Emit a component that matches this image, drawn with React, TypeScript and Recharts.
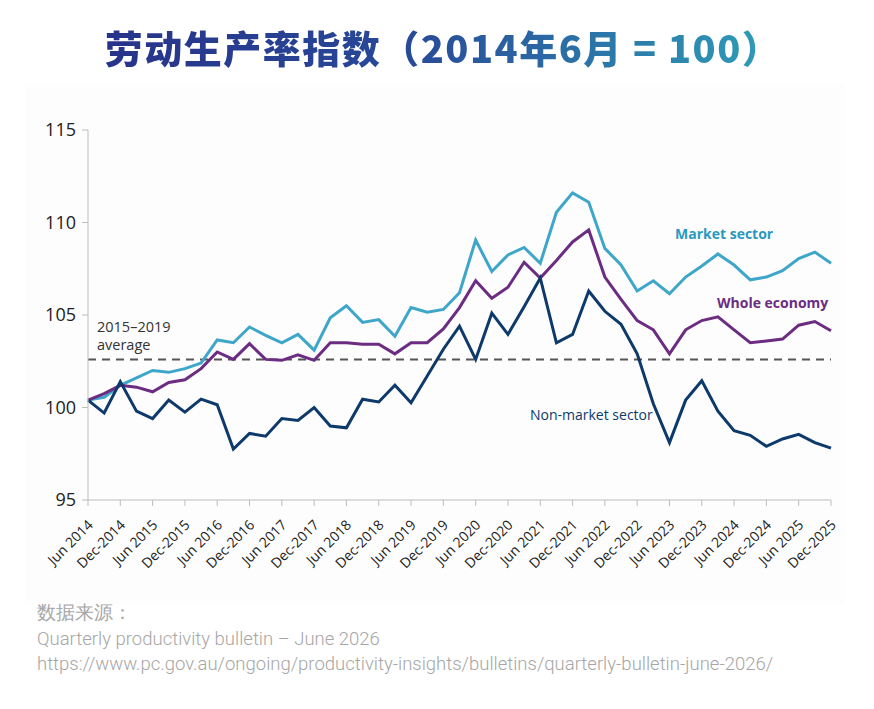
import React from 'react';
import { LineChart, Line, XAxis, YAxis, ReferenceLine } from 'recharts';

// Quarterly labels, Jun 2014 to Dec 2025
const quarters = [
  'Jun 2014', 'Sep-2014', 'Dec-2014',
  'Mar-2015', 'Jun 2015', 'Sep-2015', 'Dec-2015',
  'Mar-2016', 'Jun 2016', 'Sep-2016', 'Dec-2016',
  'Mar-2017', 'Jun 2017', 'Sep-2017', 'Dec-2017',
  'Mar-2018', 'Jun 2018', 'Sep-2018', 'Dec-2018',
  'Mar-2019', 'Jun 2019', 'Sep-2019', 'Dec-2019',
  'Mar-2020', 'Jun 2020', 'Sep-2020', 'Dec-2020',
  'Mar-2021', 'Jun 2021', 'Sep-2021', 'Dec-2021',
  'Mar-2022', 'Jun 2022', 'Sep-2022', 'Dec-2022',
  'Mar-2023', 'Jun 2023', 'Sep-2023', 'Dec-2023',
  'Mar-2024', 'Jun 2024', 'Sep-2024', 'Dec-2024',
  'Mar-2025', 'Jun 2025', 'Sep-2025', 'Dec-2025',
];

const marketSector = [
  100.4, 100.55, 101.2,
  101.6, 102.0, 101.9, 102.1,
  102.4, 103.65, 103.5, 104.35,
  103.9, 103.5, 103.95, 103.1,
  104.85, 105.5, 104.6, 104.75,
  103.85, 105.4, 105.15, 105.3,
  106.2, 109.05, 107.35, 108.25,
  108.65, 107.8, 110.55, 111.6,
  111.1, 108.6, 107.7, 106.3,
  106.85, 106.15, 107.05, 107.65,
  108.3, 107.7, 106.9, 107.05,
  107.4, 108.05, 108.4, 107.8,
];

const wholeEconomy = [
  100.4, 100.75, 101.2,
  101.1, 100.85, 101.35, 101.5,
  102.1, 103.0, 102.6, 103.45,
  102.6, 102.55, 102.85, 102.55,
  103.5, 103.5, 103.42, 103.42,
  102.9, 103.5, 103.5, 104.25,
  105.4, 106.85, 105.9, 106.5,
  107.85, 107.0, 107.95, 108.95,
  109.6, 107.05, 105.85, 104.7,
  104.2, 102.9, 104.2, 104.7,
  104.9, 104.2, 103.5, 103.6,
  103.7, 104.45, 104.65, 104.15,
];

const nonMarketSector = [
  100.4, 99.7, 101.4,
  99.8, 99.4, 100.4, 99.75,
  100.45, 100.15, 97.75, 98.6,
  98.45, 99.4, 99.3, 100.0,
  99.0, 98.9, 100.45, 100.3,
  101.2, 100.25, 101.7, 103.15,
  104.4, 102.6, 105.1, 103.95,
  105.45, 107.0, 103.5, 103.95,
  106.3, 105.2, 104.5, 102.9,
  100.2, 98.1, 100.4, 101.45,
  99.8, 98.75, 98.5, 97.9,
  98.3, 98.55, 98.1, 97.8,
];

const yTicks = [95, 100, 105, 110, 115];
const average2015to2019 = 102.6;

const data = quarters.map((q, i) => ({
  quarter: q,
  market: marketSector[i],
  whole: wholeEconomy[i],
  nonMarket: nonMarketSector[i],
}));

const MARKET = '#3ea6c9';
const WHOLE = '#6b2c82';
const NON_MARKET = '#0d3a6b';
const AXIS = '#bdbdbd';

const XTick = (props: any) => {
  const { x, y, payload } = props;
  return (
    <g transform={`translate(${x + 3},${y + 15})`}>
      <text
        transform="rotate(-45)"
        textAnchor="end"
        dy={4}
        fontSize={14}
        fill="#222"
        fontFamily="'Open Sans', sans-serif"
      >
        {payload.value}
      </text>
    </g>
  );
};

export default function App() {
  return (
    <div
      style={{
        position: 'absolute',
        left: 0,
        top: 0,
        width: 874,
        height: 709,
        background: '#ffffff',
        overflow: 'hidden',
        fontFamily: "'Open Sans', sans-serif",
      }}
    >
      <div
        style={{
          position: 'absolute',
          left: 25,
          top: 85,
          width: 820,
          height: 520,
          background: '#fdfdfd',
        }}
      />
      <div
        style={{
          position: 'absolute',
          left: 6,
          top: 21,
          width: 874,
          textAlign: 'center',
          fontFamily: "'Noto Sans CJK SC', sans-serif",
          fontWeight: 900,
          fontSize: 38,
          letterSpacing: 1.5,
          lineHeight: '52px',
        }}
      >
        <span
          style={{
            background: 'linear-gradient(90deg, #27338a 0%, #284a98 45%, #2f9fb8 100%)',
            WebkitBackgroundClip: 'text',
            backgroundClip: 'text',
            color: 'transparent',
          }}
        >
          劳动生产率指数（2014年6月 = 100）
        </span>
      </div>

      <div style={{ position: 'absolute', left: 0, top: 0 }}>
        <LineChart
          width={874}
          height={709}
          data={data}
          margin={{ top: 130, right: 43, left: 0, bottom: 129 }}
        >
          <XAxis
            dataKey="quarter"
            interval={1}
            tick={<XTick />}
            tickSize={6}
            stroke={AXIS}
            height={80}
          />
          <YAxis
            domain={[95, 115]}
            ticks={yTicks}
            width={88}
            tickSize={6}
            tickMargin={6}
            stroke={AXIS}
            tick={{ fontSize: 18, fill: '#222', fontFamily: "'Open Sans', sans-serif" }}
          />
          <ReferenceLine
            y={average2015to2019}
            stroke="#555"
            strokeWidth={2}
            strokeDasharray="8 6"
          />
          <Line
            dataKey="market"
            stroke={MARKET}
            strokeWidth={3}
            dot={false}
            isAnimationActive={false}
          />
          <Line
            dataKey="whole"
            stroke={WHOLE}
            strokeWidth={3}
            dot={false}
            isAnimationActive={false}
          />
          <Line
            dataKey="nonMarket"
            stroke={NON_MARKET}
            strokeWidth={3}
            dot={false}
            isAnimationActive={false}
          />
        </LineChart>
      </div>

      <div style={{ position: 'absolute', left: 675, top: 224, fontSize: 14, fontWeight: 700, color: '#2c98c0' }}>
        Market sector
      </div>
      <div style={{ position: 'absolute', left: 717, top: 293, fontSize: 14, fontWeight: 700, color: WHOLE }}>
        Whole economy
      </div>
      <div style={{ position: 'absolute', left: 530, top: 405, fontSize: 14, color: NON_MARKET }}>
        Non-market sector
      </div>
      <div style={{ position: 'absolute', left: 97, top: 318, fontSize: 14.5, lineHeight: '18px', color: '#333' }}>
        2015–2019
        <br />
        average
      </div>

      <div
        style={{
          position: 'absolute',
          left: 37,
          top: 601,
          fontFamily: 'Roboto, sans-serif',
          fontWeight: 300,
          fontSize: 18.5,
          lineHeight: '25.5px',
          color: '#a6a6a6',
        }}
      >
        <div>数据来源：</div>
        <div>Quarterly productivity bulletin – June 2026</div>
        <div>https://www.pc.gov.au/ongoing/productivity-insights/bulletins/quarterly-bulletin-june-2026/</div>
      </div>
    </div>
  );
}
